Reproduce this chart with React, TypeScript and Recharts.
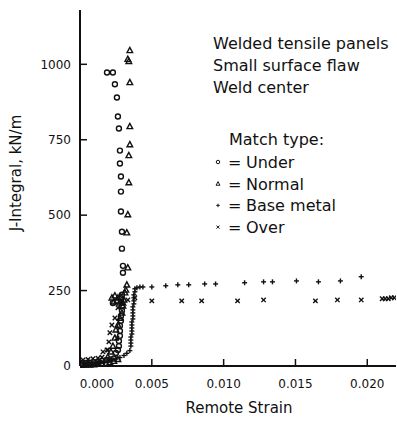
import { ScatterChart, Scatter, XAxis, YAxis } from 'recharts'

const strainTicks = [0, 0.005, 0.01, 0.015, 0.02]
const jTicks = [0, 250, 500, 750, 1000]

const noteLines = ['Welded tensile panels', 'Small surface flaw', 'Weld center']
const legendTitle = 'Match type:'
const matchTypes = ['Under', 'Normal', 'Base metal', 'Over']

// Under match (circles)
const underStrain = [
  0.00014, 0.00042, 0.00069, 0.00097, 0.00125, 0.00153, 0.00181, 0.00208, 0.00236,
  0.0025, 0.00264, 0.00271, 0.00271, 0.00278, 0.00278, 0.00278, 0.00285, 0.00285,
  0.00292, 0.00292, 0.00285, 0.00229,
  0.00292, 0.00299, 0.00299, 0.00292, 0.00292, 0.00285, 0.00285, 0.00285,
  0.00278, 0.00278, 0.00271, 0.00264, 0.00257, 0.00243, 0.00229, 0.00188,
]
const underJ = [
  10, 10, 11, 13, 14, 17, 19, 22, 25,
  43, 53, 66, 83, 100, 116, 133, 150, 166,
  183, 199, 213, 209,
  236, 309, 332, 389, 445, 512, 578, 628,
  671, 714, 787, 827, 890, 934, 973, 973,
]

// Normal match (triangles)
const normalStrain = [
  0.00014, 0.00042, 0.00069, 0.00097, 0.00125, 0.00153, 0.00181, 0.00208, 0.00236, 0.00264,
  0.00194, 0.00215, 0.00229, 0.00243, 0.0025, 0.00264, 0.00278, 0.00292, 0.00299, 0.00306,
  0.00222, 0.00243, 0.00264, 0.00285, 0.00236, 0.00257, 0.00278, 0.00299, 0.00313, 0.00319,
  0.00326, 0.00333, 0.00326, 0.00333, 0.0034, 0.0034,
  0.00347, 0.00347, 0.00347, 0.0034, 0.00333, 0.00347,
]
const normalJ = [
  3, 4, 4, 5, 6, 7, 9, 12, 16, 22,
  30, 47, 66, 93, 120, 136, 159, 176, 199, 219,
  226, 233, 226, 229, 213, 216, 209, 209, 243, 252,
  269, 326, 442, 502, 608, 698,
  734, 794, 940, 1010, 1017, 1046,
]

// Base metal (plus)
const baseStrain = [
  0.00042, 0.00083, 0.00125, 0.00167, 0.00208, 0.0025, 0.00278, 0.00306, 0.00326, 0.00347,
  0.00354, 0.00354, 0.00354, 0.00354, 0.00361, 0.00361, 0.00361, 0.00361, 0.00361,
  0.00368, 0.00368, 0.00368, 0.00368, 0.00368, 0.00375, 0.00375, 0.00375, 0.00375,
  0.00382, 0.00382, 0.00396, 0.00417,
  0.00438, 0.005, 0.00597, 0.00681, 0.00757, 0.00868, 0.00944, 0.01146, 0.01278,
  0.0134, 0.01507, 0.0166, 0.01813, 0.01958,
]
const baseJ = [
  4, 6, 8, 12, 17, 23, 28, 35, 42, 51,
  66, 76, 86, 96, 106, 116, 126, 136, 146,
  156, 166, 176, 186, 196, 206, 216, 226, 236,
  246, 256, 259, 262,
  262, 262, 266, 269, 269, 272, 272, 276, 279,
  279, 282, 279, 282, 296,
]

// Over match (crosses)
const overStrain = [
  0.00021, 0.00056, 0.0009, 0.00125, 0.00153, 0.00028, 0.00069, 0.00104, 0.00139,
  0.0016, 0.00188, 0.00194, 0.00201, 0.00208,
  0.00222, 0.00257, 0.00243, 0.00264, 0.00292, 0.00333, 0.00382, 0.005,
  0.00708, 0.00847, 0.01097, 0.01278, 0.01639, 0.01792, 0.01958, 0.02104,
  0.02125, 0.02146, 0.02167, 0.02188,
]
const overJ = [
  20, 22, 24, 26, 29, 2, 3, 7, 13,
  47, 53, 53, 80, 110,
  136, 93, 159, 193, 213, 219, 226, 216,
  216, 216, 216, 219, 216, 219, 219, 223,
  223, 223, 226, 226,
]

const toPoints = (xs: number[], ys: number[]) => xs.map((x, i) => ({ strain: x, j: ys[i] }))

const ink = '#111'

const CircleMark = ({ cx, cy, s = 1 }: any) => (
  <circle cx={cx} cy={cy} r={2.5 * s} fill="none" stroke={ink} strokeWidth={1.4 * s} />
)
const TriangleMark = ({ cx, cy, s = 1 }: any) => (
  <polygon
    points={`${cx},${cy - 3 * s} ${cx - 2.8 * s},${cy + 2.2 * s} ${cx + 2.8 * s},${cy + 2.2 * s}`}
    fill="none"
    stroke={ink}
    strokeWidth={1.4 * s}
  />
)
const PlusMark = ({ cx, cy, s = 1 }: any) => (
  <g stroke={ink} strokeWidth={1.4 * s}>
    <line x1={cx - 2.5 * s} y1={cy} x2={cx + 2.5 * s} y2={cy} />
    <line x1={cx} y1={cy - 2.5 * s} x2={cx} y2={cy + 2.5 * s} />
  </g>
)
const CrossMark = ({ cx, cy, s = 1 }: any) => (
  <g stroke={ink} strokeWidth={1.4 * s}>
    <line x1={cx - 2.2 * s} y1={cy - 2.2 * s} x2={cx + 2.2 * s} y2={cy + 2.2 * s} />
    <line x1={cx - 2.2 * s} y1={cy + 2.2 * s} x2={cx + 2.2 * s} y2={cy - 2.2 * s} />
  </g>
)
const legendMarks = [CircleMark, TriangleMark, PlusMark, CrossMark]

const StrainTick = ({ x, y, payload }: any) => (
  <text
    x={x + (payload.value === 0 ? 17 : 0)}
    y={y + 22}
    textAnchor="middle"
    fontSize={12}
    fontFamily="DejaVu Sans"
    fill={ink}
  >
    {payload.value.toFixed(3)}
  </text>
)

export default function App() {
  const font = 'DejaVu Sans'
  return (
    <div style={{ position: 'absolute', left: 0, top: 0, width: 397, height: 421, background: '#fff' }}>
      <ScatterChart width={397} height={421} margin={{ top: 10, right: 1, bottom: 0, left: 0 }}>
        <XAxis
          type="number"
          dataKey="strain"
          domain={[0, 0.022]}
          ticks={strainTicks}
          height={55}
          tickSize={-7}
          tickMargin={7}
          tick={<StrainTick />}
          axisLine={{ stroke: ink, strokeWidth: 2 }}
          tickLine={{ stroke: ink, strokeWidth: 1.5 }}
          allowDataOverflow
        />
        <YAxis
          type="number"
          dataKey="j"
          domain={[0, 1180]}
          ticks={jTicks}
          width={80}
          tickSize={-7}
          tickMargin={16}
          tick={{ fontSize: 12, fontFamily: font, fill: ink }}
          axisLine={{ stroke: ink, strokeWidth: 2 }}
          tickLine={{ stroke: ink, strokeWidth: 1.5 }}
        />
        <Scatter data={toPoints(overStrain, overJ)} shape={<CrossMark />} isAnimationActive={false} />
        <Scatter data={toPoints(baseStrain, baseJ)} shape={<PlusMark />} isAnimationActive={false} />
        <Scatter data={toPoints(normalStrain, normalJ)} shape={<TriangleMark />} isAnimationActive={false} />
        <Scatter data={toPoints(underStrain, underJ)} shape={<CircleMark />} isAnimationActive={false} />
      </ScatterChart>
      <svg
        width={397}
        height={421}
        style={{ position: 'absolute', left: 0, top: 0, pointerEvents: 'none' }}
        fontFamily={font}
        fill={ink}
      >
        <text x={21} y={173} transform="rotate(-90 21 173)" textAnchor="middle" fontSize={15}>
          J-Integral, kN/m
        </text>
        <text x={239} y={413} textAnchor="middle" fontSize={15}>
          Remote Strain
        </text>
        {noteLines.map((t, i) => (
          <text key={t} x={213} y={49 + i * 22} fontSize={16}>
            {t}
          </text>
        ))}
        <text x={229} y={145} fontSize={16}>
          {legendTitle}
        </text>
        {matchTypes.map((name, i) => {
          const Mark = legendMarks[i]
          const base = 168 + i * 21.7
          return (
            <g key={name}>
              <Mark cx={218} cy={base - 6} s={0.7} />
              <text x={228} y={base} fontSize={16}>=</text>
              <text x={246} y={base} fontSize={16}>{name}</text>
            </g>
          )
        })}
      </svg>
    </div>
  )
}
